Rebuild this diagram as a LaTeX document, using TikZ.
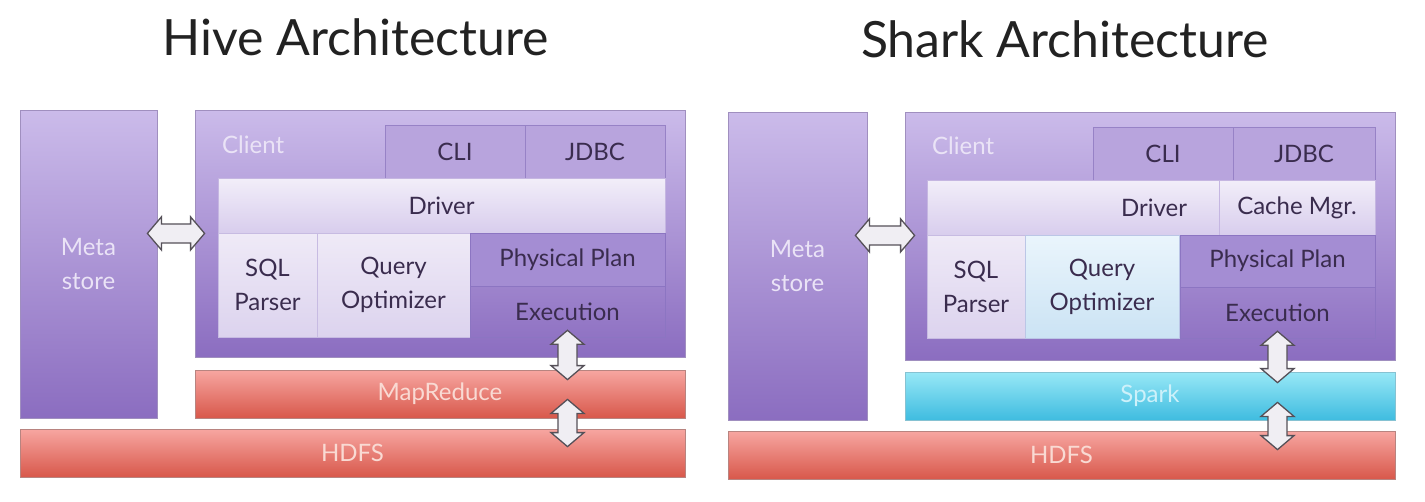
\documentclass[tikz,border=0pt]{standalone}
\usepackage{fontspec}
\setmainfont{Lato}
\usetikzlibrary{calc}

\definecolor{titletext}{HTML}{222222}
\definecolor{purptop}{HTML}{CBBBEA}
\definecolor{purpbot}{HTML}{8B6DC0}
\definecolor{boxline}{HTML}{A08FBF}
\definecolor{tabfill}{HTML}{B8A4DD}
\definecolor{tabline}{HTML}{9782C6}
\definecolor{drvtop}{HTML}{F2EEF9}
\definecolor{drvbot}{HTML}{D8CDED}
\definecolor{litetop}{HTML}{EFEAF7}
\definecolor{litebot}{HTML}{DCD3EE}
\definecolor{bluetop}{HTML}{EAF5FC}
\definecolor{bluebot}{HTML}{CBE3F4}
\definecolor{planfill}{HTML}{A48DD3}
\definecolor{planline}{HTML}{8C75C2}
\definecolor{redtop}{HTML}{F7A6A1}
\definecolor{redbot}{HTML}{D8584B}
\definecolor{redline}{HTML}{B88480}
\definecolor{cyantop}{HTML}{98E8F6}
\definecolor{cyanbot}{HTML}{3FBCE0}
\definecolor{cyanline}{HTML}{86C2D2}
\definecolor{darktext}{HTML}{3A2C4E}
\definecolor{palepurple}{HTML}{EAE3F6}
\definecolor{palered}{HTML}{F9DAD3}
\definecolor{palecyan}{HTML}{CDF1FA}
\definecolor{arrline}{HTML}{555058}
\definecolor{arrfill}{HTML}{F0EEF3}

\newcommand{\lblfont}{\fontsize{24}{34}\selectfont}
\newcommand{\arrHead}{14pt}
\newcommand{\arrWide}{16.5pt}
\newcommand{\arrShaft}{9.5pt}

\tikzset{
  purplebox/.style={draw=boxline, line width=0.8pt, top color=purptop, bottom color=purpbot,
    inner sep=0pt, text=palepurple, font=\lblfont, align=center},
  tabbox/.style={draw=tabline, line width=1pt, fill=tabfill, inner sep=0pt, text=darktext, font=\lblfont},
  drvbox/.style={draw=drvbot!70!tabline, line width=0.8pt, top color=drvtop, bottom color=drvbot,
    inner sep=0pt, text=darktext, font=\lblfont},
  litebox/.style={draw=litebot!70!tabline, line width=0.8pt, top color=litetop, bottom color=litebot,
    inner sep=0pt, text=darktext, font=\lblfont, align=center},
  bluebox/.style={litebox, draw=bluebot!70!tabline, top color=bluetop, bottom color=bluebot},
  planbox/.style={draw=planline, line width=1pt, fill=planfill, inner sep=0pt, text=darktext, font=\lblfont},
  execbox/.style={draw=planline, line width=0.6pt, inner sep=0pt, text=darktext, font=\lblfont},
  redbar/.style={draw=redline, line width=0.8pt, top color=redtop, bottom color=redbot,
    inner sep=0pt, text=palered, font=\lblfont},
  cyanbar/.style={redbar, draw=cyanline, top color=cyantop, bottom color=cyanbot, text=palecyan},
  clientlbl/.style={anchor=base west, inner sep=0pt, text=palepurple, font=\lblfont},
  heading/.style={anchor=base, inner sep=0pt, text=titletext, font=\fontsize{50}{60}\selectfont},
  fatarrow/.style={draw=arrline, fill=arrfill, line width=1.3pt, line join=miter,
    to path={
      -- ($(\tikztostart)!\arrHead!(\tikztotarget)!\arrWide!90:(\tikztotarget)$)
      -- ($(\tikztostart)!\arrHead!(\tikztotarget)!\arrShaft!90:(\tikztotarget)$)
      -- ($(\tikztotarget)!\arrHead!(\tikztostart)!\arrShaft!-90:(\tikztostart)$)
      -- ($(\tikztotarget)!\arrHead!(\tikztostart)!\arrWide!-90:(\tikztostart)$)
      -- (\tikztotarget)
      -- ($(\tikztotarget)!\arrHead!(\tikztostart)!\arrWide!90:(\tikztostart)$)
      -- ($(\tikztotarget)!\arrHead!(\tikztostart)!\arrShaft!90:(\tikztostart)$)
      -- ($(\tikztostart)!\arrHead!(\tikztotarget)!\arrShaft!-90:(\tikztotarget)$)
      -- ($(\tikztostart)!\arrHead!(\tikztotarget)!\arrWide!-90:(\tikztotarget)$)
      -- cycle}},
}

\begin{document}
\begin{tikzpicture}[x=1pt,y=-1pt]
\path[use as bounding box, fill=white] (0,0) rectangle (1425,501);

\node[heading] (hivetitle) at (356,55) {Hive Architecture};
\node[purplebox, minimum width=137, minimum height=308] (hmeta) at (88.5,264) {Meta\\store};
\node[purplebox, minimum width=490, minimum height=247] (hclient) at (440,233.5) {};
\node[clientlbl] (hclientlbl) at (222,153) {Client};
\node[tabbox, minimum width=140, minimum height=53] (hcli) at (455,151.5) {CLI};
\node[tabbox, minimum width=140, minimum height=53] (hjdbc) at (595,151.5) {JDBC};
\node[drvbox, minimum width=447, minimum height=55] (hdriver) at (441.5,205.5) {Driver};
\node[litebox, minimum width=99, minimum height=104] (hparser) at (267.5,285) {SQL\\Parser};
\node[litebox, minimum width=153, minimum height=104] (hoptim) at (393.5,285) {Query\\Optimizer};
\node[planbox, minimum width=195, minimum height=53] (hplan) at (567.5,259.5) {Physical Plan};
\node[execbox, minimum width=195, minimum height=51] (hexec) at (567.5,311.5) {Execution};
\node[redbar, minimum width=490, minimum height=48] (hmapred) at (440,394) {MapReduce};
\node[redbar, minimum width=665, minimum height=48] (hhdfs) at (352.5,453) {HDFS};

\coordinate (hm1) at ([xshift=-10pt]hmeta.east |- hdriver.south);
\coordinate (hm2) at ([xshift=10pt]hclient.west |- hdriver.south);
\coordinate (he1) at ([yshift=7pt]hexec.south);
\coordinate (he2) at ([yshift=-10pt]hexec.south |- hmapred.north);
\coordinate (hd1) at ([yshift=19pt]hexec.south |- hmapred.south);
\coordinate (hd2) at ([yshift=-18pt]hexec.south |- hhdfs.north);
\draw[fatarrow] (hm1) to (hm2);
\draw[fatarrow] (he1) to (he2);
\draw[fatarrow] (hd1) to (hd2);

\node[heading] (sharktitle) at (1065,57) {Shark Architecture};
\node[purplebox, minimum width=139, minimum height=308] (smeta) at (797.5,266) {Meta\\store};
\node[purplebox, minimum width=490, minimum height=248] (sclient) at (1150,236) {};
\node[clientlbl] (sclientlbl) at (932,154) {Client};
\node[tabbox, minimum width=140, minimum height=53] (scli) at (1163,153.5) {CLI};
\node[tabbox, minimum width=142, minimum height=53] (sjdbc) at (1304,153.5) {JDBC};
\node[drvbox, minimum width=292, minimum height=55, text width=228, align=right] (sdriver) at (1073,207.5) {Driver};
\node[drvbox, minimum width=156, minimum height=55] (scache) at (1297,207.5) {Cache Mgr.};
\node[litebox, minimum width=98, minimum height=103] (sparser) at (976,286.5) {SQL\\Parser};
\node[bluebox, minimum width=154, minimum height=103] (soptim) at (1102,286.5) {Query\\Optimizer};
\node[planbox, minimum width=195, minimum height=52] (splan) at (1277.5,261) {Physical Plan};
\node[execbox, minimum width=195, minimum height=51] (sexec) at (1277.5,312.5) {Execution};
\node[cyanbar, minimum width=490, minimum height=48] (sspark) at (1150,396) {Spark};
\node[redbar, minimum width=667, minimum height=48] (shdfs) at (1061.5,455) {HDFS};

\coordinate (sm1) at ([xshift=-12pt]smeta.east |- sdriver.south);
\coordinate (sm2) at ([xshift=10pt]sclient.west |- sdriver.south);
\coordinate (se1) at ([yshift=7pt]sexec.south);
\coordinate (se2) at ([yshift=-11pt]sexec.south |- sspark.north);
\coordinate (sd1) at ([yshift=18pt]sexec.south |- sspark.south);
\coordinate (sd2) at ([yshift=-19pt]sexec.south |- shdfs.north);
\draw[fatarrow] (sm1) to (sm2);
\draw[fatarrow] (se1) to (se2);
\draw[fatarrow] (sd1) to (sd2);
\end{tikzpicture}
\end{document}
